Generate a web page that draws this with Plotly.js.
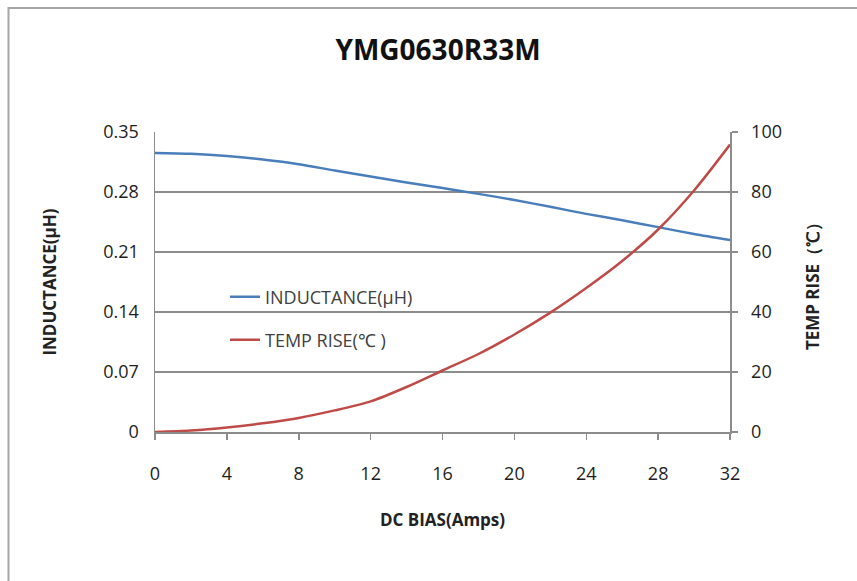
<!DOCTYPE html>
<html>
<head>
<meta charset="utf-8">
<script src="https://cdn.plot.ly/plotly-3.0.1.min.js"></script>
<style>
html,body{margin:0;padding:0;background:#fff;}
#chart{width:857px;height:581px;}
</style>
</head>
<body>
<div id="chart"></div>
<script>
const dcBias = [0, 2, 4, 6, 8, 10, 12, 14, 16, 18, 20, 22, 24, 26, 28, 30, 32];
const inductance = [0.3255, 0.3245, 0.322, 0.318, 0.3125, 0.305, 0.298, 0.291, 0.2847, 0.2778, 0.2707, 0.2627, 0.2545, 0.247, 0.239, 0.231, 0.224];
const tempRise = [0, 0.5, 1.5, 2.9, 4.7, 7.2, 10.2, 15, 20.5, 26, 32.5, 39.8, 48, 57, 67.5, 80.5, 95.8];
const xTicks = [0, 4, 8, 12, 16, 20, 24, 28, 32];
const yLeftTicks = [0, 0.07, 0.14, 0.21, 0.28, 0.35];
const yLeftText = ["0", "0.07", "0.14", "0.21", "0.28", "0.35"];
const yRightTicks = [0, 20, 40, 60, 80, 100];
const yRightText = ["0", "20", "40", "60", "80", "100"];

const FONT = "Open Sans, Lato, sans-serif";
const GRID = "#8c8c8c";
const TICKCOL = "#1e1e1e";

const traces = [
  {
    x: dcBias, y: inductance, type: "scatter", mode: "lines",
    name: "INDUCTANCE(μH)", line: {color: "#4a7ebb", width: 2.5, shape: "spline", smoothing: 0.8},
    yaxis: "y", legend: "legend", hoverinfo: "x+y"
  },
  {
    x: dcBias, y: tempRise, type: "scatter", mode: "lines",
    name: "TEMP RISE(℃ )", line: {color: "#be4b48", width: 2.5, shape: "spline", smoothing: 0.8},
    yaxis: "y2", legend: "legend2", hoverinfo: "x+y"
  }
];

const legendCommon = {
  bgcolor: "rgba(0,0,0,0)", borderwidth: 0,
  font: {family: FONT, size: 18, color: "#404040"},
  xanchor: "left", yanchor: "middle", x: (225-155)/575
};

const layout = {
  width: 857, height: 581,
  margin: {l: 155, r: 127, t: 132, b: 149},
  paper_bgcolor: "#ffffff", plot_bgcolor: "#ffffff",
  showlegend: true,
  title: {
    text: "<b>YMG0630R33M</b>",
    font: {family: FONT, size: 28, color: "#111111"},
    x: (438-155)/575, xref: "paper", xanchor: "center",
    y: 1 - 50/581, yref: "container", yanchor: "middle"
  },
  xaxis: {
    range: [0, 32], tickvals: xTicks, ticktext: xTicks.map(String),
    showgrid: false, zeroline: false,
    showline: true, linecolor: GRID, linewidth: 1.5,
    ticks: "outside", ticklen: 6, tickcolor: GRID, tickwidth: 1.5,
    ticklabelstandoff: 19,
    tickfont: {family: FONT, size: 18, color: TICKCOL},
    title: {text: "<b>DC BIAS(Amps)</b>", font: {family: FONT, size: 17, color: "#222222"}, standoff: 30}
  },
  yaxis: {
    range: [0, 0.35], tickvals: yLeftTicks, ticktext: yLeftText,
    showgrid: true, gridcolor: GRID, gridwidth: 1.5,
    zeroline: false, showline: true, linecolor: GRID, linewidth: 1.5,
    ticks: "", ticklabelstandoff: 11,
    tickfont: {family: FONT, size: 18, color: TICKCOL},
    title: {text: "<b>INDUCTANCE(μH)</b>", font: {family: FONT, size: 17, color: "#222222"}, standoff: 42}
  },
  yaxis2: {
    range: [0, 100], tickvals: yRightTicks, ticktext: yRightText,
    overlaying: "y", side: "right", anchor: "x",
    showgrid: false, zeroline: false,
    showline: true, linecolor: GRID, linewidth: 1.5,
    ticks: "outside", ticklen: 6, tickcolor: GRID, tickwidth: 1.5,
    ticklabelstandoff: 10,
    tickfont: {family: FONT, size: 18, color: TICKCOL},
    title: {text: "<b>TEMP RISE（℃）</b>", font: {family: FONT, size: 17, color: "#222222"}, standoff: 26}
  },
  legend: Object.assign({}, legendCommon, {y: (432-297)/300}),
  legend2: Object.assign({}, legendCommon, {y: (432-340)/300}),
  shapes: [
    {type: "rect", xref: "paper", yref: "paper",
     x0: (8.5-155)/575, x1: 2, y0: -2, y1: (432-8)/300,
     line: {color: "#a6a6a6", width: 2}, fillcolor: "rgba(0,0,0,0)", layer: "below"}
  ]
};

Plotly.newPlot("chart", traces, layout, {displayModeBar: false, staticPlot: true});
</script>
</body>
</html>
